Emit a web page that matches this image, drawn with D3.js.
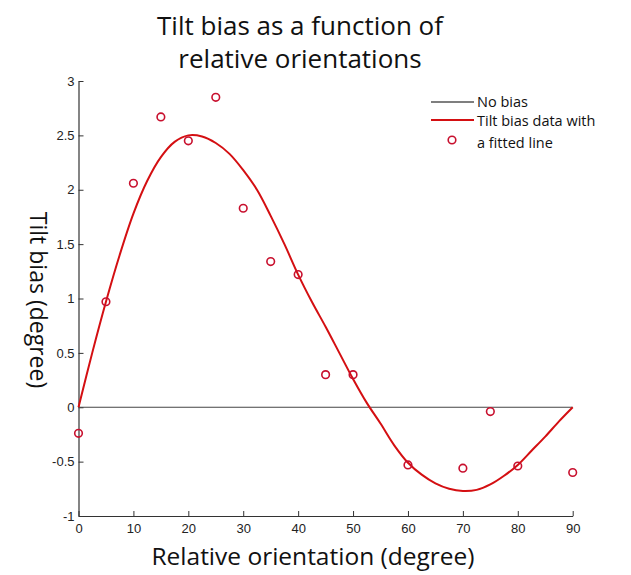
<!DOCTYPE html>
<html>
<head>
<meta charset="utf-8">
<script src="https://cdn.jsdelivr.net/npm/d3@7"></script>
<style>
html,body{margin:0;padding:0;background:#fff;}
svg{display:block;}
</style>
</head>
<body>
<svg id="chart" width="631" height="575"></svg>
<script>
// Data
const dataX = [0, 5, 10, 15, 20, 25, 30, 35, 40, 45, 50, 60, 70, 75, 80, 90];
const dataY = [-0.24, 0.97, 2.06, 2.67, 2.45, 2.85, 1.83, 1.34, 1.22, 0.30, 0.30, -0.53, -0.56, -0.04, -0.54, -0.60];
const fitX = [0, 2.5, 5, 7.5, 10, 12.5, 15, 17.5, 20, 22.5, 25, 27.5, 30, 32.5, 35, 37.5, 40, 42.5, 45, 47.5, 50, 52.5, 55, 57.5, 60, 62.5, 65, 67.5, 70, 72.5, 75, 77.5, 80, 82.5, 85, 87.5, 90];
const fitY = [0, 0.50, 0.97, 1.40, 1.78, 2.08, 2.30, 2.44, 2.50, 2.49, 2.43, 2.33, 2.18, 2.00, 1.76, 1.50, 1.22, 0.97, 0.74, 0.50, 0.26, 0.04, -0.15, -0.35, -0.51, -0.62, -0.70, -0.75, -0.77, -0.76, -0.71, -0.63, -0.53, -0.40, -0.27, -0.13, 0];
const noBiasX = [0, 90];
const noBiasY = [0, 0];
const xTicks = [0, 10, 20, 30, 40, 50, 60, 70, 80, 90];
const yTicks = [-1, -0.5, 0, 0.5, 1, 1.5, 2, 2.5, 3];
const titleLines = ["Tilt bias as a function of", "relative orientations"];
const xLabel = "Relative orientation (degree)";
const yLabel = "Tilt bias (degree)";
const legendLabels = ["No bias", "Tilt bias data with", "a fitted line"];

const svg = d3.select("#chart");
const x = d3.scaleLinear().domain([0, 90]).range([78.5, 572.7]);
const y = d3.scaleLinear().domain([-1, 3]).range([516, 81]);
const axisColor = "#333";
const tickFont = "'Liberation Sans', Arial, sans-serif";
const labelFont = "'Open Sans', 'Noto Sans', sans-serif";

// axes
const xAxis = d3.axisBottom(x).tickValues(xTicks).tickSizeInner(-5).tickSizeOuter(0).tickPadding(8).tickFormat(d3.format("d"));
const yAxis = d3.axisLeft(y).tickValues(yTicks).tickSizeInner(-5).tickSizeOuter(0).tickPadding(4).tickFormat(d => String(d));

const gx = svg.append("g").attr("transform", `translate(0,${y(-1)})`).call(xAxis);
const gy = svg.append("g").attr("transform", `translate(${x(0)},0)`).call(yAxis);
[gx, gy].forEach(g => {
  g.select(".domain").attr("stroke", axisColor).attr("stroke-width", 1.2);
  g.selectAll(".tick line").attr("stroke", axisColor);
  g.selectAll(".tick text").attr("fill", "#222").style("font-family", tickFont).style("font-size", "13px");
});

// zero line
const line = d3.line().x(d => x(d[0])).y(d => y(d[1]));
svg.append("path")
  .datum(d3.zip(noBiasX, noBiasY))
  .attr("d", line)
  .attr("fill", "none").attr("stroke", "#444").attr("stroke-width", 1.2);

// fitted line
svg.append("path")
  .datum(d3.zip(fitX, fitY))
  .attr("d", d3.line().x(d => x(d[0])).y(d => y(d[1])).curve(d3.curveCatmullRom.alpha(0.5)))
  .attr("fill", "none").attr("stroke", "#d40f12").attr("stroke-width", 2);

// data points
svg.append("g").selectAll("circle")
  .data(d3.zip(dataX, dataY))
  .join("circle")
  .attr("cx", d => x(d[0])).attr("cy", d => y(d[1])).attr("r", 3.8)
  .attr("fill", "none").attr("stroke", "#c8102e").attr("stroke-width", 1.6);

// title
svg.append("text")
  .attr("text-anchor", "middle")
  .style("font-family", labelFont).style("font-size", "26px").attr("fill", "#111")
  .selectAll("tspan").data(titleLines).join("tspan")
  .attr("x", 300).attr("y", (d, i) => 35 + i * 33).text(d => d);

// axis labels
svg.append("text").attr("x", 313).attr("y", 565).attr("text-anchor", "middle")
  .style("font-family", labelFont).style("font-size", "24.5px").attr("fill", "#111").text(xLabel);
svg.append("text").attr("transform", "translate(30,300) rotate(90)").attr("text-anchor", "middle")
  .style("font-family", labelFont).style("font-size", "23px").attr("fill", "#111").text(yLabel);

// legend
const lg = svg.append("g");
lg.append("line").attr("x1", 431).attr("x2", 474).attr("y1", 102).attr("y2", 102).attr("stroke", "#000").attr("stroke-width", 1.2);
lg.append("line").attr("x1", 431).attr("x2", 474).attr("y1", 120).attr("y2", 120).attr("stroke", "#d40f12").attr("stroke-width", 2);
lg.append("circle").attr("cx", 452).attr("cy", 140).attr("r", 3.8).attr("fill", "none").attr("stroke", "#c8102e").attr("stroke-width", 1.6);
lg.selectAll("text.leg").data(legendLabels).join("text").attr("class", "leg")
  .attr("x", 477).attr("y", (d, i) => [102, 121, 143][i]).attr("dy", "0.35em")
  .style("font-family", labelFont).style("font-size", "14.5px").attr("fill", "#111").text(d => d);
</script>
</body>
</html>
